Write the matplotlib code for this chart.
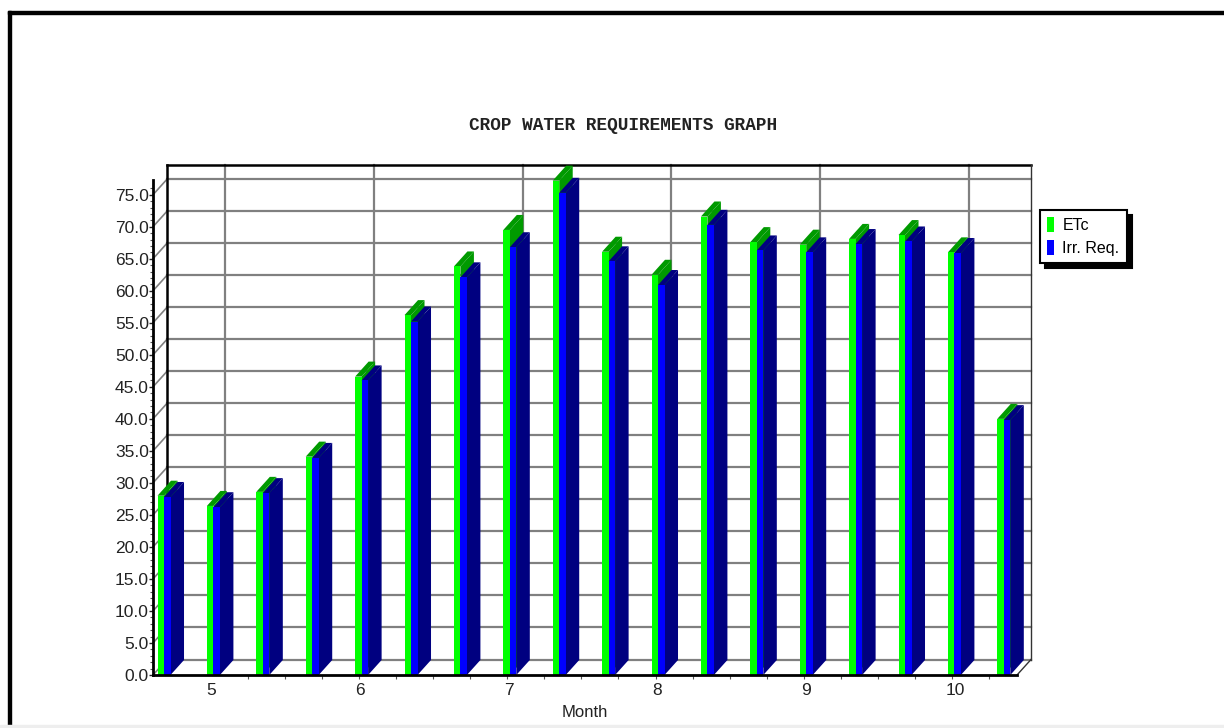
import matplotlib
matplotlib.use("Agg")
import matplotlib.pyplot as plt
from matplotlib.patches import Polygon, Rectangle
from matplotlib.lines import Line2D
import numpy as np

# decade values (3 per month, May..Oct), mm/dec
months = [5, 6, 7, 8, 9, 10]
etc = [28.0, 26.4, 28.6, 34.1, 46.6, 56.2, 63.8, 69.5, 77.2,
       66.1, 62.5, 71.6, 67.6, 67.2, 68.1, 68.7, 66.0, 40.0]
irr_req = [27.8, 26.2, 28.4, 33.9, 46.0, 55.2, 62.1, 66.8, 75.3,
           64.6, 60.9, 70.3, 66.3, 66.0, 67.3, 67.7, 65.9, 39.8]
y_ticks = np.arange(0, 80, 5)

W, H = 1224, 728
plt.rcParams['font.family'] = ['Liberation Sans', 'DejaVu Sans']


def main():
    fig = plt.figure(figsize=(W / 100, H / 100), dpi=100)

    # front plane of the 3d box, pixel geometry
    left_px, right_px = 153, 1017
    bot_px, top_px = 675, 180
    xmin, xmax = -0.223, 17.267
    ytop = 77.3
    ax = fig.add_axes([left_px / W, (H - bot_px) / H,
                       (right_px - left_px) / W, (bot_px - top_px) / H])
    ax.set_xlim(xmin, xmax)
    ax.set_ylim(0, ytop)

    px_x = (right_px - left_px) / (xmax - xmin)
    px_y = (bot_px - top_px) / ytop
    ddx = 14 / px_x   # depth in data units
    ddy = 15.5 / px_y
    w = 6.5 / px_x

    x = np.arange(len(etc))
    month_pos = np.linspace(0.95, 16.01, len(months))

    # back wall
    wall_kw = dict(clip_on=False, zorder=1)
    for v in y_ticks:
        ax.add_line(Line2D([xmin + ddx, xmax + ddx], [v + ddy, v + ddy],
                           color='#808080', lw=1.6, **wall_kw))
        ax.add_line(Line2D([xmin, xmin + ddx], [v, v + ddy],
                           color='#808080', lw=1.2, **wall_kw))
    for m in month_pos:
        ax.add_line(Line2D([m + ddx, m + ddx], [ddy, ytop + ddy],
                           color='#808080', lw=1.6, **wall_kw))
    ax.add_line(Line2D([xmin + ddx, xmin + ddx], [ddy, ytop + ddy],
                       color='black', lw=1.8, **wall_kw))
    ax.add_line(Line2D([xmin + ddx, xmax + ddx], [ytop + ddy, ytop + ddy],
                       color='black', lw=1.8, **wall_kw))
    ax.add_line(Line2D([xmax + ddx, xmax + ddx], [ddy, ytop + ddy],
                       color='#333333', lw=1.0, **wall_kw))
    ax.add_line(Line2D([xmax, xmax + ddx], [0, ddy],
                       color='#333333', lw=1.0, **wall_kw))

    # bars: green box then blue box drawn next to it
    bdx = 13.5 / px_x
    bdy = 15 / px_y
    g = ax.bar(x - w / 2, etc, width=w, color='#00FF00', linewidth=0,
               zorder=2.6, label='ETc')
    b = ax.bar(x + w / 2, irr_req, width=w, color='#0000FF', linewidth=0,
               zorder=4, label='Irr. Req.')
    for i in range(len(x)):
        for x0, h, dark, z in [(x[i] - w, etc[i], '#009A00', 2.5),
                               (x[i], irr_req[i], '#000080', 3.5)]:
            x1 = x0 + w
            side = [(x1, 0), (x1 + bdx, bdy), (x1 + bdx, h + bdy), (x1, h)]
            top = [(x0, h), (x0 + bdx, h + bdy), (x1 + bdx, h + bdy), (x1, h)]
            ax.add_patch(Polygon(side, closed=True, facecolor=dark,
                                 edgecolor='none', clip_on=False, zorder=z))
            ax.add_patch(Polygon(top, closed=True, facecolor=dark,
                                 edgecolor='none', clip_on=False, zorder=z))

    # axes
    for s in ['top', 'right']:
        ax.spines[s].set_visible(False)
    for s in ['left', 'bottom']:
        ax.spines[s].set_linewidth(2.0)
        ax.spines[s].set_color('black')
        ax.spines[s].set_zorder(5)
    ax.set_facecolor('none')
    ax.set_yticks(y_ticks)
    ax.set_yticklabels(['%.1f' % v for v in y_ticks])
    ax.set_yticks(np.arange(0, 77, 1), minor=True)
    ax.set_xticks(month_pos)
    ax.set_xticklabels([str(m) for m in months])
    ax.set_xticks(np.arange(month_pos[0], xmax, 0.75), minor=True)
    ax.tick_params(axis='y', which='major', length=3, width=1, pad=0,
                   labelsize=12.5, colors='#222222')
    ax.tick_params(axis='y', which='minor', length=2.5, width=0.8,
                   color='#555555')
    ax.tick_params(axis='x', which='major', length=0, pad=6,
                   labelsize=12.5, colors='#222222')
    ax.tick_params(axis='x', which='minor', length=3, width=0.8,
                   color='#555555')
    ax.set_xlabel('Month', fontsize=12, color='#222222', labelpad=5)

    fig.text(623 / W, 1 - 125 / H, 'CROP WATER REQUIREMENTS GRAPH',
             family='Liberation Mono', weight='bold', fontsize=12.8,
             ha='center', va='center', color='#222222')

    leg = ax.legend(handles=[g, b], loc='upper left',
                    bbox_to_anchor=(1040 / W, 1 - 210 / H),
                    bbox_transform=fig.transFigure, borderaxespad=0,
                    fontsize=11.5, handlelength=0.45, handleheight=1.05,
                    handletextpad=0.5, labelspacing=0.45, borderpad=0.45,
                    fancybox=False, framealpha=1, edgecolor='black',
                    shadow={'ox': 3.6, 'oy': -3.6, 'color': 'black',
                            'alpha': 1})
    leg.get_frame().set_linewidth(1.5)

    # window frame
    fig.add_artist(Rectangle((8 / W, 0), 3 / W, 1 - 11 / H,
                             transform=fig.transFigure, color='black'))
    fig.add_artist(Rectangle((8 / W, 1 - 14 / H), 1 - 8 / W, 3 / H,
                             transform=fig.transFigure, color='black'))
    fig.add_artist(Rectangle((0, 0), 1, 3 / H, transform=fig.transFigure,
                             color='#eeeeee'))

    fig.savefig('out.png', dpi=100)


if __name__ == "__main__":
    main()
